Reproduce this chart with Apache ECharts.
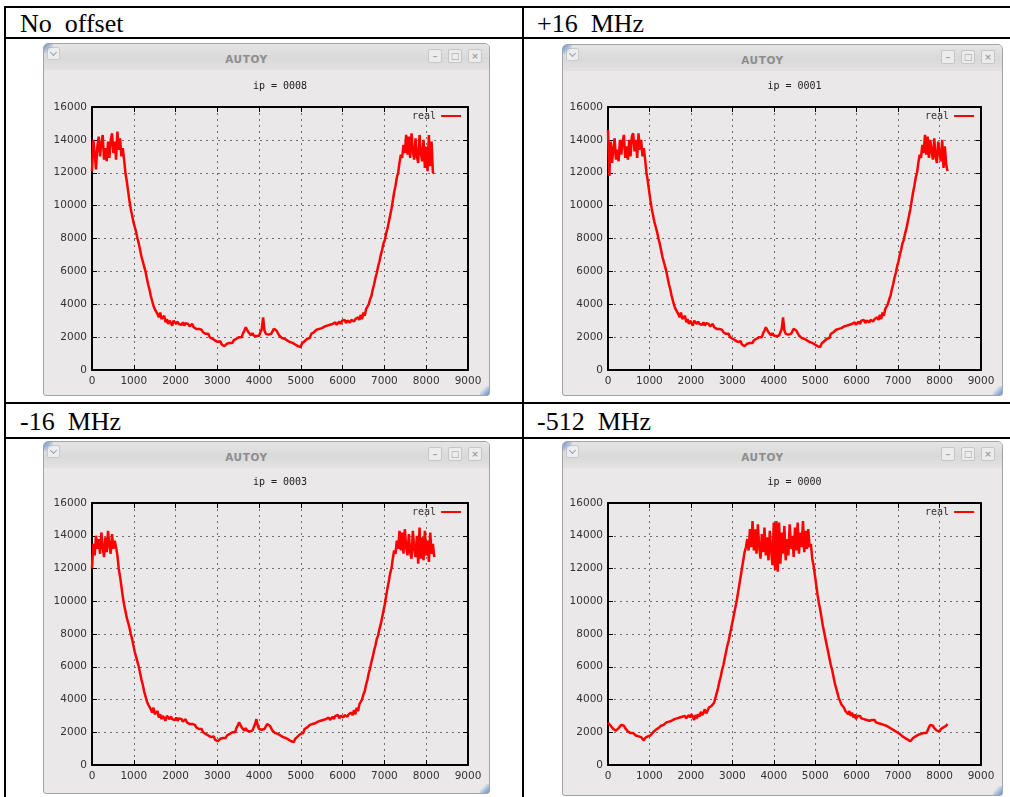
<!DOCTYPE html>
<html>
<head>
<meta charset="utf-8">
<script src="https://cdn.jsdelivr.net/npm/echarts@6/dist/echarts.min.js"></script>
<style>
  html, body { margin: 0; padding: 0; background: #fff; }
  body { width: 1010px; height: 797px; position: relative; overflow: hidden; }
  .rule { position: absolute; background: #000; }
  .head { position: absolute; font-family: "Liberation Serif", "Times New Roman", serif; font-size: 26px; line-height: 26px; white-space: pre; color: #000; }
  .win { position: absolute; box-sizing: border-box; border: 1px solid #a5a3a4; border-radius: 5px 5px 3px 3px; background: #ebe8e9; overflow: hidden; }
  .win .bar { position: absolute; left: 0; right: 0; top: 0; height: 26px; background: linear-gradient(#e6e5e5, #dad9d9 55%, #e3e1e1); }
  .win .name { position: absolute; left: 20px; right: 60px; top: 9px; height: 12px; line-height: 12px; text-align: center; font: bold 10.5px "DejaVu Sans", sans-serif; color: #8d8d8d; letter-spacing: 0.6px; }
  .win .menu { position: absolute; left: 3px; top: 3px; width: 13px; height: 13px; box-sizing: border-box; border: 1px solid #c9c9c9; border-radius: 2px; background: #eeeeee; }
  .win .menu::after { content: ""; position: absolute; left: 3px; top: 2px; width: 4px; height: 4px; border-right: 1.5px solid #8aa0b8; border-bottom: 1.5px solid #8aa0b8; transform: rotate(45deg); }
  .win .btn { position: absolute; top: 5px; width: 14px; height: 14px; box-sizing: border-box; border: 1px solid #c6c6c6; border-radius: 2px; background: #ececec; color: #a0a0a0; font: bold 9px/12px "DejaVu Sans", sans-serif; text-align: center; }
  .win .cornerA { position: absolute; left: 0; top: 0; width: 9px; height: 9px; background: linear-gradient(135deg, rgba(70,125,195,0.85), rgba(70,125,195,0) 70%); }
  .win .cornerB { position: absolute; right: 0; bottom: 0; width: 9px; height: 9px; background: linear-gradient(315deg, rgba(70,125,195,0.85), rgba(70,125,195,0) 70%); }
  #chart { position: absolute; left: 0; top: 0; width: 1010px; height: 797px; }
</style>
</head>
<body>
  <!-- table rules -->
  <div class="rule" style="left:4px;top:6px;width:1006px;height:2px"></div>
  <div class="rule" style="left:4px;top:37px;width:1006px;height:2px"></div>
  <div class="rule" style="left:4px;top:402px;width:1006px;height:2px"></div>
  <div class="rule" style="left:4px;top:437px;width:1006px;height:2px"></div>
  <div class="rule" style="left:4px;top:6px;width:2px;height:791px"></div>
  <div class="rule" style="left:522px;top:6px;width:2px;height:791px"></div>

  <!-- cell headings -->
  <div class="head" style="left:20px;top:11px">No  offset</div>
  <div class="head" style="left:537px;top:11px">+16  MHz</div>
  <div class="head" style="left:20px;top:409px">-16  MHz</div>
  <div class="head" style="left:537px;top:409px">-512  MHz</div>

  <!-- plot windows -->
  <div class="win" style="left:43px;top:43px;width:447px;height:353px">
    <div class="bar"></div><div class="menu"></div><div class="name">AUTOY</div>
    <div class="btn" style="right:47px">–</div><div class="btn" style="right:27px">□</div><div class="btn" style="right:7px">×</div>
    <div class="cornerA"></div><div class="cornerB"></div>
  </div>
  <div class="win" style="left:562px;top:44px;width:441px;height:352px">
    <div class="bar"></div><div class="menu"></div><div class="name">AUTOY</div>
    <div class="btn" style="right:47px">–</div><div class="btn" style="right:27px">□</div><div class="btn" style="right:7px">×</div>
    <div class="cornerA"></div><div class="cornerB"></div>
  </div>
  <div class="win" style="left:43px;top:441px;width:447px;height:353px">
    <div class="bar"></div><div class="menu"></div><div class="name">AUTOY</div>
    <div class="btn" style="right:47px">–</div><div class="btn" style="right:27px">□</div><div class="btn" style="right:7px">×</div>
    <div class="cornerA"></div><div class="cornerB"></div>
  </div>
  <div class="win" style="left:562px;top:441px;width:441px;height:355px">
    <div class="bar"></div><div class="menu"></div><div class="name">AUTOY</div>
    <div class="btn" style="right:47px">–</div><div class="btn" style="right:27px">□</div><div class="btn" style="right:7px">×</div>
    <div class="cornerA"></div><div class="cornerB"></div>
  </div>

  <div id="chart"></div>

<script>
// Channel spacing of the spectra (one value every xStep channels, starting at 0)
const xStep = 32;

// Autocorrelation amplitude ("real") per channel, no frequency offset
const noOffset = [
  12100,14000,13200,12200,13600,14200,13000,13800,14300,12800,
  13500,12700,13900,12900,14000,14400,13200,13900,12800,14500,
  13400,14100,13000,13500,12800,12000,11500,10900,10300,9800,
  9400,9000,8700,8400,8000,7700,7300,6900,6600,6300,
  6000,5600,5200,4900,4500,4200,3900,3700,3600,3400,
  3200,3500,3100,3000,3300,2900,3100,2800,3000,2900,
  2700,3000,2900,2800,2950,2800,2900,2750,2900,2700,
  2850,2750,2800,2650,2700,2800,2600,2700,2500,2600,
  2500,2400,2450,2300,2350,2200,2100,2200,2000,2050,
  1900,1950,1800,1850,1700,1650,1750,1550,1600,1450,
  1550,1600,1500,1650,1700,1650,1800,1750,1900,1850,
  2000,2100,2000,2250,2400,2600,2450,2300,2200,2100,
  2250,2100,2200,2050,2150,2100,2300,2500,3200,2400,
  2200,2100,2150,2050,2200,2300,2500,2550,2400,2250,
  2100,2050,1950,2000,1900,1850,1800,1850,1700,1750,
  1650,1700,1550,1600,1450,1550,1400,1600,1550,1750,
  1700,1900,2000,1950,2200,2150,2300,2250,2450,2350,
  2500,2400,2550,2450,2650,2550,2700,2600,2750,2650,
  2800,2700,2900,2750,2850,2950,2800,3000,2900,3050,
  2850,3000,3100,2900,3050,3150,2950,3100,3000,3200,
  3050,3350,3100,3500,3300,3700,3600,4000,4300,4500,
  4900,5200,5600,5900,6300,6600,7000,7300,7700,7900,
  8300,8600,9000,9400,9800,10300,10800,11200,11700,12000,
  12600,13100,12900,13700,13200,14300,13100,14200,12900,14400,
  13300,12800,14100,13000,12600,14300,13200,12700,14000,12300,
  13600,12100,14300,12400,13900,12000,12000
];

// +16 MHz offset
const plus16 = [
  14600,11800,13900,12600,13400,14100,12800,13400,12700,14000,
  13100,13900,14300,12900,13600,12800,14000,13000,14200,14400,
  13300,14000,12900,14400,13400,14000,13000,13500,12800,12000,
  11500,10900,10300,9800,9400,9000,8700,8400,8000,7700,
  7300,6900,6600,6300,6000,5600,5200,4900,4500,4200,
  3900,3700,3600,3400,3200,3500,3100,3000,3300,2900,
  3100,2800,3000,2900,2700,3000,2900,2800,2950,2800,
  2900,2750,2900,2700,2850,2750,2800,2650,2700,2800,
  2600,2700,2500,2600,2500,2400,2450,2300,2350,2200,
  2100,2200,2000,2050,1900,1950,1800,1850,1700,1650,
  1750,1550,1600,1450,1550,1600,1500,1650,1700,1650,
  1800,1750,1900,1850,2000,2100,2000,2250,2400,2600,
  2450,2300,2200,2100,2250,2100,2200,2050,2150,2100,
  2300,2500,3200,2400,2200,2100,2150,2050,2200,2300,
  2500,2550,2400,2250,2100,2050,1950,2000,1900,1850,
  1800,1850,1700,1750,1650,1700,1550,1600,1450,1550,
  1400,1600,1550,1750,1700,1900,2000,1950,2200,2150,
  2300,2250,2450,2350,2500,2400,2550,2450,2650,2550,
  2700,2600,2750,2650,2800,2700,2900,2750,2850,2950,
  2800,3000,2900,3050,2850,3000,3100,2900,3050,3150,
  2950,3100,3000,3200,3050,3350,3100,3500,3300,3700,
  3600,4000,4300,4500,4900,5200,5600,5900,6300,6600,
  7000,7300,7700,7900,8300,8600,9000,9400,9800,10300,
  10800,11200,11700,12000,12600,13100,12900,13700,13200,14300,
  13100,14200,12900,14000,13300,12800,14100,13000,12600,13900,
  13200,12700,14000,12300,13600,12500,12100
];

// -16 MHz offset
const minus16 = [
  12000,13500,12800,14000,13200,13800,12900,14200,13300,12700,
  13900,13000,14300,13400,12900,14100,13200,13700,13300,12800,
  12000,11500,10900,10300,9800,9400,9000,8700,8400,8000,
  7700,7300,6900,6600,6300,6000,5600,5200,4900,4500,
  4200,3900,3700,3600,3400,3200,3500,3100,3000,3300,
  2900,3100,2800,3000,2900,2700,3000,2900,2800,2950,
  2800,2900,2750,2900,2700,2850,2750,2800,2650,2700,
  2800,2600,2700,2500,2600,2500,2400,2450,2300,2350,
  2200,2100,2200,2000,2050,1900,1950,1800,1850,1700,
  1650,1750,1550,1600,1450,1550,1600,1500,1650,1700,
  1650,1800,1750,1900,1850,2000,2100,2000,2250,2400,
  2600,2450,2300,2200,2100,2250,2100,2200,2050,2150,
  2100,2300,2500,2800,2400,2200,2100,2150,2050,2200,
  2300,2500,2550,2400,2250,2100,2050,1950,2000,1900,
  1850,1800,1850,1700,1750,1650,1700,1550,1600,1450,
  1550,1400,1600,1550,1750,1700,1900,2000,1950,2200,
  2150,2300,2250,2450,2350,2500,2400,2550,2450,2650,
  2550,2700,2600,2750,2650,2800,2700,2900,2750,2850,
  2950,2800,3000,2900,3050,2850,3000,3100,2900,3050,
  3150,2950,3100,3000,3200,3050,3350,3100,3500,3300,
  3700,3600,4000,4300,4500,4900,5200,5600,5900,6300,
  6600,7000,7300,7700,7900,8300,8600,9000,9400,9800,
  10300,10800,11200,11700,12000,12600,13100,12900,13700,13200,
  14300,13100,14200,12900,14400,13300,12800,14100,13000,12600,
  14300,13200,12700,14000,12300,14500,12600,13900,12500,14300,
  12800,13700,12400,14200,12900,13500,12700
];

// -512 MHz offset
const minus512 = [
  2600,2500,2400,2300,2200,2150,2100,2200,2250,2350,
  2450,2550,2400,2250,2150,2050,2000,1950,1900,1950,
  1850,1800,1850,1750,1800,1700,1600,1500,1650,1550,
  1750,1650,1800,1900,2000,1950,2150,2100,2250,2200,
  2400,2300,2450,2400,2600,2500,2650,2550,2700,2650,
  2800,2700,2850,2750,2900,2800,2950,2850,3000,2850,
  2950,3050,2900,3100,2950,2750,3050,2850,3100,2950,
  3250,3050,3200,3400,3150,3300,3500,3400,3600,3700,
  3800,4100,4400,4700,5100,5400,5800,6100,6500,6900,
  7300,7600,8000,8400,8800,9200,9600,10000,10500,11000,
  11500,12000,12500,13000,13300,13800,13100,14400,13300,14900,
  13100,14400,12900,14700,13300,12600,14100,13000,14500,12800,
  13900,12500,14300,13100,12200,14800,11900,14900,11800,14800,
  12300,14200,12900,14600,12500,13800,12800,14700,13200,14000,
  12700,14500,13100,14800,12900,14200,13300,14900,13000,14300,
  13200,14400,13300,13500,12600,12200,11600,11000,10400,9900,
  9500,9000,8500,8100,7700,7300,6900,6500,6100,5800,
  5400,5000,4700,4400,4100,3900,3700,3600,3500,3300,
  3400,3100,3300,3000,3200,2900,3100,2800,3000,2900,
  3000,2850,2950,2800,2900,2750,2850,2700,2800,2750,
  2650,2750,2600,2700,2550,2650,2500,2600,2450,2550,
  2400,2500,2300,2400,2200,2250,2100,2150,2000,2050,
  1900,1850,1750,1800,1650,1700,1550,1600,1450,1550,
  1650,1600,1750,1700,1850,1800,1900,1850,1950,2000,
  1950,2100,2300,2450,2550,2400,2250,2150,2100,2000,
  2050,2200,2150,2300,2250,2400,2500
];

// Per-panel titles (shown above each plot)
const ipLabels = ['ip = 0008', 'ip = 0001', 'ip = 0003', 'ip = 0000'];
const seriesName = 'real';

// Axis ranges
const xMin = 0, xMax = 9000, xInterval = 1000;
const yMin = 0, yMax = 16000, yInterval = 2000;

// Plot box of every panel, in page pixels
const boxes = [
  { left: 92,  top: 107, width: 376, height: 263 },
  { left: 608, top: 107, width: 373, height: 263 },
  { left: 92,  top: 503, width: 376, height: 262 },
  { left: 608, top: 503, width: 373, height: 262 }
];
const seriesList = [noOffset, plus16, minus16, minus512];

const plainNumber = v => String(v);
const labelFont = { color: '#333', fontFamily: 'DejaVu Sans', fontSize: 10.5, formatter: plainNumber };
const gridDots = { show: true, showMinLine: false, showMaxLine: false, lineStyle: { color: '#6e6e6e', width: 1, type: [2, 4] } };
const ticks = { show: true, inside: true, length: 5, lineStyle: { color: '#000', width: 1 } };
const frame = { show: true, onZero: false, lineStyle: { color: '#000', width: 2 } };

const option = { animation: false, grid: [], xAxis: [], yAxis: [], series: [], legend: [], title: [] };

boxes.forEach((b, k) => {
  option.grid.push(Object.assign({ show: false }, b));
  // bottom axis with labels, top axis mirrors the ticks; the four axis lines make the frame
  option.xAxis.push({
    type: 'value', gridIndex: k, min: xMin, max: xMax, interval: xInterval, position: 'bottom',
    axisLine: frame, axisTick: ticks,
    axisLabel: Object.assign({ margin: 6 }, labelFont), splitLine: gridDots
  });
  option.xAxis.push({
    type: 'value', gridIndex: k, min: xMin, max: xMax, interval: xInterval, position: 'top',
    axisLine: frame, axisTick: ticks, axisLabel: { show: false }, splitLine: { show: false }
  });
  option.yAxis.push({
    type: 'value', gridIndex: k, min: yMin, max: yMax, interval: yInterval, position: 'left',
    axisLine: frame, axisTick: ticks,
    axisLabel: Object.assign({ margin: 5 }, labelFont), splitLine: gridDots
  });
  option.yAxis.push({
    type: 'value', gridIndex: k, min: yMin, max: yMax, interval: yInterval, position: 'right',
    axisLine: frame, axisTick: ticks, axisLabel: { show: false }, splitLine: { show: false }
  });
  option.series.push({
    type: 'line', name: seriesName, xAxisIndex: 2 * k, yAxisIndex: 2 * k,
    data: seriesList[k].map((v, i) => [i * xStep, v]),
    showSymbol: false, z: 1,
    lineStyle: { color: '#ff0000', width: 2.5 }, itemStyle: { color: '#ff0000' }
  });
  option.legend.push({
    data: [seriesName], left: b.left + b.width - 7 - 49, top: b.top + 4,
    align: 'right', icon: 'rect', itemWidth: 20, itemHeight: 2, padding: 0, selectedMode: false,
    textStyle: { fontFamily: 'DejaVu Sans Mono', fontSize: 10, color: '#333' }
  });
  option.title.push({
    text: ipLabels[k], left: b.left + b.width / 2, top: b.top - 26, textAlign: 'center', padding: 0,
    textStyle: { fontFamily: 'DejaVu Sans Mono', fontSize: 10, fontWeight: 'normal', color: '#222' }
  });
});

const chart = echarts.init(document.getElementById('chart'), null, { renderer: 'canvas' });
chart.setOption(option);
</script>
</body>
</html>
